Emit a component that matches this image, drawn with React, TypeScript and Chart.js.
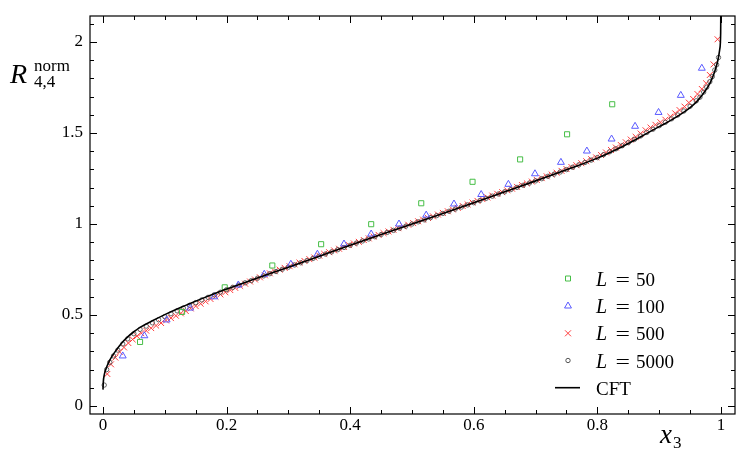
import { useEffect, useRef } from 'react';
import { Chart, registerables } from 'chart.js';

Chart.register(...registerables);

// ---------- Data ----------
const cftX = [0, 0.0005, 0.002, 0.005, 0.01, 0.015, 0.02, 0.03, 0.04, 0.05, 0.06, 0.08, 0.1, 0.12, 0.14, 0.16, 0.18, 0.2, 0.25, 0.3, 0.35, 0.4, 0.45, 0.5, 0.55, 0.6, 0.65, 0.7, 0.75, 0.8, 0.84, 0.86, 0.88, 0.9, 0.92, 0.94, 0.95, 0.96, 0.97, 0.98, 0.985, 0.99, 0.995, 0.998, 0.9995, 1.0];
const cftY = [0.09, 0.13, 0.17, 0.205, 0.245, 0.275, 0.3, 0.345, 0.38, 0.408, 0.432, 0.468, 0.502, 0.533, 0.562, 0.59, 0.617, 0.643, 0.703, 0.763, 0.823, 0.883, 0.942, 1.0, 1.058, 1.117, 1.177, 1.237, 1.298, 1.362, 1.425, 1.46, 1.498, 1.535, 1.572, 1.615, 1.64, 1.67, 1.71, 1.76, 1.795, 1.84, 1.9, 1.96, 2.05, 2.3];

const l50X = [0.06, 0.128, 0.197, 0.274, 0.353, 0.434, 0.515, 0.598, 0.675, 0.751, 0.824];
const l50Y = [0.352, 0.517, 0.652, 0.772, 0.889, 0.999, 1.114, 1.232, 1.355, 1.493, 1.658];

const l100X = [0.032, 0.067, 0.103, 0.141, 0.18, 0.219, 0.261, 0.304, 0.347, 0.39, 0.434, 0.479, 0.523, 0.568, 0.612, 0.656, 0.699, 0.741, 0.783, 0.823, 0.861, 0.899, 0.935, 0.969];
const l100Y = [0.275, 0.386, 0.473, 0.538, 0.6, 0.665, 0.724, 0.779, 0.834, 0.89, 0.945, 1.0, 1.049, 1.11, 1.162, 1.218, 1.276, 1.339, 1.401, 1.467, 1.537, 1.613, 1.707, 1.856];

const l500X = [0.007, 0.013, 0.02, 0.027, 0.034, 0.041, 0.048, 0.055, 0.062, 0.07, 0.078, 0.086, 0.094, 0.102, 0.11, 0.118, 0.126, 0.134, 0.142, 0.15, 0.158, 0.166, 0.174, 0.182, 0.19, 0.198, 0.206, 0.214, 0.222, 0.23, 0.238, 0.246, 0.254, 0.262, 0.27, 0.278, 0.286, 0.294, 0.302, 0.31, 0.318, 0.326, 0.334, 0.342, 0.35, 0.358, 0.366, 0.374, 0.382, 0.39, 0.398, 0.406, 0.414, 0.422, 0.43, 0.438, 0.446, 0.454, 0.462, 0.47, 0.478, 0.486, 0.494, 0.502, 0.51, 0.518, 0.526, 0.534, 0.542, 0.55, 0.558, 0.566, 0.574, 0.582, 0.59, 0.598, 0.606, 0.614, 0.622, 0.63, 0.638, 0.646, 0.654, 0.662, 0.67, 0.678, 0.686, 0.694, 0.702, 0.71, 0.718, 0.726, 0.734, 0.742, 0.75, 0.758, 0.766, 0.774, 0.782, 0.79, 0.798, 0.806, 0.814, 0.822, 0.83, 0.838, 0.846, 0.854, 0.862, 0.87, 0.878, 0.886, 0.894, 0.902, 0.91, 0.918, 0.926, 0.933, 0.941, 0.948, 0.955, 0.962, 0.969, 0.976, 0.982, 0.988, 0.9945];
const l500Y = [0.176, 0.229, 0.266, 0.297, 0.322, 0.346, 0.366, 0.384, 0.4, 0.414, 0.428, 0.442, 0.456, 0.47, 0.483, 0.496, 0.509, 0.522, 0.536, 0.549, 0.562, 0.575, 0.588, 0.601, 0.613, 0.625, 0.637, 0.649, 0.66, 0.672, 0.684, 0.695, 0.707, 0.718, 0.729, 0.74, 0.749, 0.759, 0.768, 0.778, 0.788, 0.797, 0.807, 0.816, 0.826, 0.836, 0.845, 0.855, 0.864, 0.874, 0.884, 0.893, 0.902, 0.912, 0.921, 0.931, 0.94, 0.95, 0.959, 0.968, 0.977, 0.987, 0.996, 1.005, 1.015, 1.024, 1.033, 1.042, 1.052, 1.061, 1.07, 1.08, 1.089, 1.099, 1.108, 1.118, 1.127, 1.137, 1.146, 1.156, 1.166, 1.175, 1.185, 1.194, 1.204, 1.214, 1.223, 1.233, 1.242, 1.252, 1.262, 1.272, 1.282, 1.292, 1.302, 1.313, 1.323, 1.334, 1.345, 1.356, 1.366, 1.379, 1.393, 1.407, 1.42, 1.434, 1.449, 1.464, 1.479, 1.497, 1.515, 1.53, 1.545, 1.559, 1.573, 1.59, 1.608, 1.626, 1.645, 1.667, 1.687, 1.714, 1.742, 1.773, 1.819, 1.877, 2.015];

const l5000X = [0.002, 0.006, 0.011, 0.017, 0.024, 0.032, 0.04, 0.05, 0.06, 0.07, 0.08, 0.09, 0.1, 0.11, 0.12, 0.13, 0.14, 0.15, 0.16, 0.17, 0.18, 0.19, 0.2, 0.21, 0.22, 0.23, 0.24, 0.25, 0.26, 0.27, 0.28, 0.29, 0.3, 0.31, 0.32, 0.33, 0.34, 0.35, 0.36, 0.37, 0.38, 0.39, 0.4, 0.41, 0.42, 0.43, 0.44, 0.45, 0.46, 0.47, 0.48, 0.49, 0.5, 0.51, 0.52, 0.53, 0.54, 0.55, 0.56, 0.57, 0.58, 0.59, 0.6, 0.61, 0.62, 0.63, 0.64, 0.65, 0.66, 0.67, 0.68, 0.69, 0.7, 0.71, 0.72, 0.73, 0.74, 0.75, 0.76, 0.77, 0.78, 0.79, 0.8, 0.81, 0.82, 0.83, 0.84, 0.85, 0.86, 0.87, 0.88, 0.89, 0.9, 0.91, 0.92, 0.93, 0.94, 0.95, 0.96, 0.966, 0.972, 0.977, 0.982, 0.986, 0.99, 0.993, 0.996];
const l5000Y = [0.115, 0.2, 0.24, 0.275, 0.307, 0.341, 0.369, 0.397, 0.421, 0.439, 0.457, 0.474, 0.491, 0.507, 0.523, 0.538, 0.553, 0.568, 0.583, 0.597, 0.611, 0.625, 0.639, 0.652, 0.664, 0.677, 0.689, 0.702, 0.715, 0.727, 0.739, 0.751, 0.763, 0.775, 0.787, 0.799, 0.811, 0.823, 0.835, 0.847, 0.859, 0.871, 0.883, 0.895, 0.907, 0.918, 0.93, 0.942, 0.954, 0.965, 0.977, 0.988, 1.0, 1.012, 1.023, 1.035, 1.046, 1.058, 1.07, 1.082, 1.093, 1.105, 1.117, 1.129, 1.141, 1.153, 1.165, 1.177, 1.189, 1.201, 1.213, 1.225, 1.237, 1.249, 1.262, 1.274, 1.286, 1.299, 1.312, 1.325, 1.338, 1.351, 1.365, 1.381, 1.397, 1.413, 1.43, 1.447, 1.465, 1.484, 1.503, 1.521, 1.54, 1.559, 1.578, 1.599, 1.621, 1.647, 1.677, 1.697, 1.725, 1.752, 1.782, 1.81, 1.846, 1.875, 1.915];

const xMajorTicks = [0, 0.2, 0.4, 0.6, 0.8, 1];
const xMinorTicks = [0.05, 0.1, 0.15, 0.25, 0.3, 0.35, 0.45, 0.5, 0.55, 0.65, 0.7, 0.75, 0.85, 0.9, 0.95];
const yMajorTicks = [0, 0.5, 1, 1.5, 2];
const yMinorTicks = [0.1, 0.2, 0.3, 0.4, 0.6, 0.7, 0.8, 0.9, 1.1, 1.2, 1.3, 1.4, 1.6, 1.7, 1.8, 1.9, 2.1];

const legendLabels = ['50', '100', '500', '5000'];

// ---------- Styles ----------
const GREEN = 'rgb(70,190,70)';
const BLUE = 'rgb(90,90,255)';
const RED = 'rgb(255,60,60)';
const GRAY = 'rgb(85,85,85)';
const SERIF = '"Liberation Serif", "DejaVu Serif", serif';

const toPts = (xs: number[], ys: number[]) => xs.map((x, i) => ({ x, y: ys[i] }));

function drawMarker(ctx: CanvasRenderingContext2D, kind: string, cx: number, cy: number) {
  ctx.save();
  ctx.lineWidth = 1;
  ctx.beginPath();
  if (kind === 'rect') {
    ctx.strokeStyle = GREEN;
    ctx.rect(cx - 2.5, cy - 2.5, 5, 5);
  } else if (kind === 'tri') {
    ctx.strokeStyle = BLUE;
    const r = 4;
    ctx.moveTo(cx, cy - r);
    ctx.lineTo(cx + r * 0.866, cy + r * 0.5);
    ctx.lineTo(cx - r * 0.866, cy + r * 0.5);
    ctx.closePath();
  } else if (kind === 'cross') {
    ctx.strokeStyle = RED;
    const d = 3;
    ctx.moveTo(cx - d, cy - d); ctx.lineTo(cx + d, cy + d);
    ctx.moveTo(cx + d, cy - d); ctx.lineTo(cx - d, cy + d);
  } else if (kind === 'circle') {
    ctx.strokeStyle = GRAY;
    ctx.arc(cx, cy, 2.2, 0, Math.PI * 2);
  }
  ctx.stroke();
  ctx.restore();
}

const decorPlugin = {
  id: 'decor',
  afterDraw(chart: any) {
    const { ctx, chartArea, scales } = chart;
    const { left, right, top, bottom } = chartArea;
    const xs = scales.x, ys = scales.y;
    ctx.save();
    ctx.strokeStyle = '#000';
    ctx.lineWidth = 1.2;
    ctx.strokeRect(left, top, right - left, bottom - top);
    ctx.lineWidth = 1;
    const MAJ = 7, MIN = 4;
    ctx.beginPath();
    const xt = (v: number, len: number) => {
      const p = Math.round(xs.getPixelForValue(v)) + 0.5;
      ctx.moveTo(p, bottom); ctx.lineTo(p, bottom - len);
      ctx.moveTo(p, top); ctx.lineTo(p, top + len);
    };
    const yt = (v: number, len: number) => {
      const p = Math.round(ys.getPixelForValue(v)) + 0.5;
      ctx.moveTo(left, p); ctx.lineTo(left + len, p);
      ctx.moveTo(right, p); ctx.lineTo(right - len, p);
    };
    xMajorTicks.forEach(v => xt(v, MAJ));
    xMinorTicks.forEach(v => xt(v, MIN));
    yMajorTicks.forEach(v => yt(v, MAJ));
    yMinorTicks.forEach(v => yt(v, MIN));
    ctx.stroke();

    // axis titles
    ctx.fillStyle = '#000';
    ctx.textAlign = 'left';
    ctx.textBaseline = 'alphabetic';
    ctx.font = `italic 28px ${SERIF}`;
    ctx.fillText('R', 10, 83);
    ctx.font = `17px ${SERIF}`;
    ctx.fillText('norm', 34, 71);
    ctx.fillText('4,4', 34, 87);

    ctx.font = `italic 27px ${SERIF}`;
    ctx.fillText('x', 660, 443);
    ctx.font = `17px ${SERIF}`;
    ctx.fillText('3', 673, 448);

    // legend
    const rows = [278.5, 306, 333.3, 360.5, 387.7];
    const kinds = ['rect', 'tri', 'cross', 'circle'];
    kinds.forEach((k, i) => drawMarker(ctx, k, 568, rows[i]));
    ctx.beginPath();
    ctx.strokeStyle = '#000';
    ctx.lineWidth = 1.6;
    ctx.moveTo(555, rows[4]); ctx.lineTo(580, rows[4]);
    ctx.stroke();
    legendLabels.forEach((lab, i) => {
      const base = rows[i] + 7;
      ctx.font = `italic 20px ${SERIF}`;
      ctx.fillText('L', 596, base);
      ctx.font = `19px ${SERIF}`;
      ctx.save();
      ctx.translate(615.5, base);
      ctx.scale(1.35, 1);
      ctx.fillText('=', 0, 0);
      ctx.restore();
      ctx.fillText(lab, 636, base);
    });
    ctx.font = `19px ${SERIF}`;
    ctx.fillText('CFT', 596, rows[4] + 7);
    ctx.restore();
  },
};

export default function App() {
  const ref = useRef<HTMLCanvasElement>(null);
  useEffect(() => {
    const canvas = ref.current!;
    const tickFont = { family: SERIF, size: 17 };
    const chart = new Chart(canvas, {
      type: 'scatter',
      data: {
        datasets: [
          {
            label: 'CFT', data: toPts(cftX, cftY), showLine: true, borderColor: '#000', borderWidth: 1.6,
            pointRadius: 0, cubicInterpolationMode: 'monotone', order: 0, fill: false,
          } as any,
          {
            label: 'L = 50', data: toPts(l50X, l50Y), pointStyle: 'rect', pointRadius: 3.6,
            borderColor: GREEN, backgroundColor: 'rgba(0,0,0,0)', pointBorderWidth: 1, order: 1,
          },
          {
            label: 'L = 100', data: toPts(l100X, l100Y), pointStyle: 'triangle', pointRadius: 4,
            borderColor: BLUE, backgroundColor: 'rgba(0,0,0,0)', pointBorderWidth: 1, order: 2,
          },
          {
            label: 'L = 5000', data: toPts(l5000X, l5000Y), pointStyle: 'circle', pointRadius: 2.2,
            borderColor: GRAY, backgroundColor: 'rgba(0,0,0,0)', pointBorderWidth: 0.9, order: 3,
          },
          {
            label: 'L = 500', data: toPts(l500X, l500Y), pointStyle: 'crossRot', pointRadius: 4.2,
            borderColor: RED, backgroundColor: 'rgba(0,0,0,0)', pointBorderWidth: 1, order: 4,
          },
        ],
      },
      options: {
        animation: false,
        responsive: false,
        layout: { padding: { top: 16, right: 17, left: 0, bottom: 0 } },
        plugins: { legend: { display: false }, tooltip: { enabled: false } },
        scales: {
          x: {
            type: 'linear', min: -0.021, max: 1.0227,
            grid: { display: false, drawTicks: false }, border: { display: false },
            ticks: { font: tickFont, color: '#000', padding: 1, maxRotation: 0, autoSkip: false, callback: (v: any) => String(v) },
            afterBuildTicks: (s: any) => { s.ticks = xMajorTicks.map(v => ({ value: v })); },
            afterFit: (s: any) => { s.height = 47; s.paddingLeft = 0; s.paddingRight = 0; },
          },
          y: {
            type: 'linear', min: -0.044, max: 2.143,
            grid: { display: false, drawTicks: false }, border: { display: false },
            ticks: { font: tickFont, color: '#000', padding: 7, autoSkip: false, callback: (v: any) => String(v) },
            afterBuildTicks: (s: any) => { s.ticks = yMajorTicks.map(v => ({ value: v })); },
            afterFit: (s: any) => { s.width = 90; s.paddingTop = 0; s.paddingBottom = 0; },
          },
        },
      },
      plugins: [decorPlugin],
    });
    return () => chart.destroy();
  }, []);
  return (
    <div style={{ position: 'absolute', left: 0, top: 0, width: 752, height: 461, background: '#fff' }}>
      <canvas ref={ref} width={752} height={461} style={{ width: 752, height: 461, display: 'block' }} />
    </div>
  );
}
